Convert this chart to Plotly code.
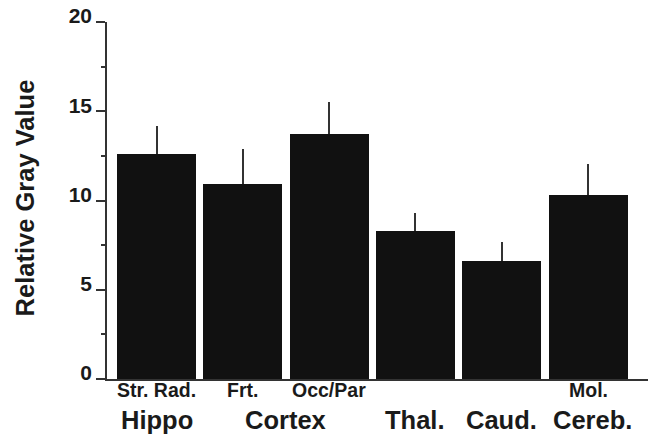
import plotly.graph_objects as go

# Relative gray value per brain region (mean with upward error)
sub_labels = ["Str. Rad.", "Frt.", "Occ/Par", "", "", "Mol."]
means = [12.6, 10.9, 13.7, 8.3, 6.6, 10.3]
errors = [1.55, 2.0, 1.8, 1.0, 1.1, 1.75]
region_labels = ["Hippo", "Cortex", "Thal.", "Caud.", "Cereb."]
region_pos = [0, 1.5, 3, 4, 5.05]
y_ticks = [0, 5, 10, 15, 20]
y_minor = [2.5, 7.5, 12.5, 17.5]

x = list(range(len(means)))
FONT = "Liberation Sans, Arial, sans-serif"
INK = "#1a1a1a"

fig = go.Figure()
fig.add_trace(go.Bar(
    x=x, y=means, width=0.915,
    marker=dict(color="#111111", line=dict(width=0)),
    error_y=dict(type="data", array=errors, arrayminus=[0] * len(errors),
                 symmetric=False, width=0, thickness=2, color="#333333"),
    showlegend=False,
))

# sub-region labels just under the baseline
for s, pos in zip(sub_labels, x):
    if s:
        fig.add_annotation(x=pos, y=-0.03, xref="x", yref="paper",
                           text=f"<b>{s}</b>", showarrow=False,
                           font=dict(family=FONT, size=19.5, color=INK),
                           xanchor="center", yanchor="middle")

# region names on the second row
for name, pos in zip(region_labels, region_pos):
    fig.add_annotation(x=pos, y=-0.115, xref="x", yref="paper",
                       text=f"<b>{name}</b>", showarrow=False,
                       font=dict(family=FONT, size=25.5, color=INK),
                       xanchor="center", yanchor="middle")

# y-axis title
fig.add_annotation(x=-0.152, y=0.508, xref="paper", yref="paper",
                   text="<b>Relative Gray Value</b>", textangle=-90,
                   showarrow=False,
                   font=dict(family=FONT, size=25.5, color=INK),
                   xanchor="center", yanchor="middle")

fig.update_layout(
    width=658, height=435,
    margin=dict(l=107, r=10, t=22, b=56),
    paper_bgcolor="white", plot_bgcolor="white",
    font=dict(family=FONT, color=INK),
    bargap=0,
)
fig.update_xaxes(
    range=[-0.574, 5.695], showticklabels=False, automargin=False,
    ticks="", showgrid=False, zeroline=False,
    showline=True, linecolor="#333333", linewidth=2,
)
fig.update_yaxes(
    range=[0, 20], tickvals=y_ticks, automargin=False,
    ticktext=[f"<b>{v}</b>" for v in y_ticks],
    tickfont=dict(family=FONT, size=21, color=INK),
    ticklabelshift=-6, ticklabelstandoff=0,
    ticks="outside", ticklen=9, tickwidth=1.5, tickcolor="#333333",
    minor=dict(tickvals=y_minor, ticks="outside",
               ticklen=4, tickwidth=1.5, tickcolor="#333333"),
    showgrid=False, zeroline=False,
    showline=True, linecolor="#333333", linewidth=1.5,
)

fig.write_html("out.html")
